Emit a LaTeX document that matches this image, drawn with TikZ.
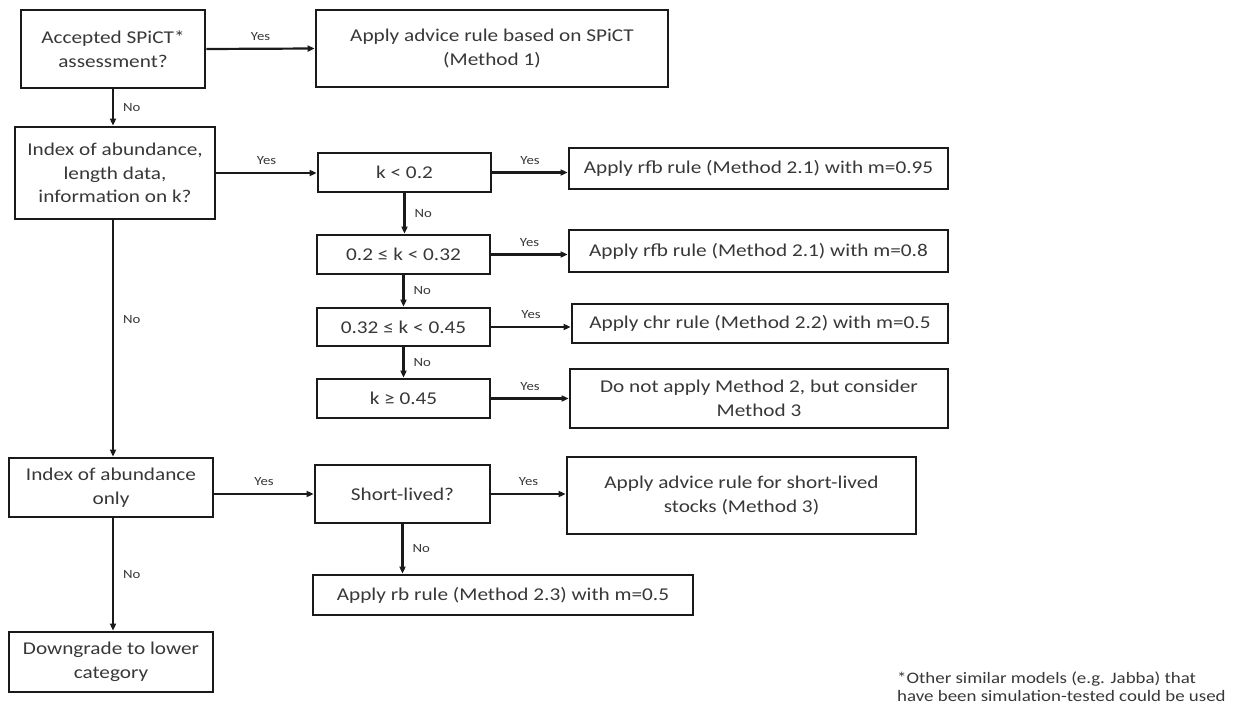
\documentclass[tikz,border=0pt]{standalone}
\usepackage{fontspec}
\setmainfont{Carlito}[FakeStretch=1.18]
\usetikzlibrary{arrows.meta}
\definecolor{txt}{HTML}{383838}
\definecolor{ln}{HTML}{1A1A1A}
\begin{document}
\begin{tikzpicture}[x=1pt,y=-1pt,
  box/.style={draw=ln,line width=2.8pt,inner sep=0pt,align=center,text=txt,
    font=\fontsize{18}{23.5}\selectfont},
  conn/.style={draw=ln,line width=2.2pt,-{Triangle[length=7pt,width=6pt]}},
  lbl/.style={text=txt,font=\fontsize{12.5}{14}\selectfont,inner sep=1pt}]
\useasboundingbox[fill=white] (0,0) rectangle (1242,704);
\node[box,minimum width=184pt,minimum height=78pt] (A) at (113,49) {Accepted SPiCT*\\assessment?};
\node[box,minimum width=352pt,minimum height=77pt] (B) at (492,48.5) {Apply advice rule based on SPiCT\\(Method 1)};
\node[box,minimum width=200pt,minimum height=92pt] (C) at (115,173) {Index of abundance,\\length data,\\information on k?};
\node[box,minimum width=173pt,minimum height=39pt] (D) at (404.5,172.5) {k < 0.2};
\node[box,minimum width=379pt,minimum height=41pt] (E) at (758.5,168.5) {Apply rfb rule (Method 2.1) with m=0.95};
\node[box,minimum width=173pt,minimum height=39pt] (F) at (403.5,254.5) {0.2 ≤ k < 0.32};
\node[box,minimum width=379pt,minimum height=42pt] (G) at (758.5,251) {Apply rfb rule (Method 2.1) with m=0.8};
\node[box,minimum width=173pt,minimum height=38pt] (H) at (403.5,327) {0.32 ≤ k < 0.45};
\node[box,minimum width=376pt,minimum height=39pt] (I) at (760,323.5) {Apply chr rule (Method 2.2) with m=0.5};
\node[box,minimum width=173pt,minimum height=39pt] (J) at (403.5,398.5) {k ≥ 0.45};
\node[box,minimum width=378pt,minimum height=59pt] (K) at (759,398.5) {Do not apply Method 2, but consider\\Method 3};
\node[box,minimum width=204pt,minimum height=59pt] (L) at (111,487.5) {Index of abundance\\only};
\node[box,minimum width=175pt,minimum height=58pt] (M) at (402.5,494) {Short-lived?};
\node[box,minimum width=349pt,minimum height=77pt] (N) at (741.5,495.5) {Apply advice rule for short-lived\\stocks (Method 3)};
\node[box,minimum width=380pt,minimum height=40pt] (O) at (503,595) {Apply rb rule (Method 2.3) with m=0.5};
\node[box,minimum width=204pt,minimum height=60pt] (P) at (111,662) {Downgrade to lower\\category};
\node[anchor=north west,align=left,text=txt,font=\fontsize{16}{18}\selectfont,inner sep=0pt] (note) at (897,672) {*Other similar models (e.g. Jabba) that\\have been simulation-tested could be used};
% horizontal yes arrows
\draw[conn] (A.east) -- node[lbl,above=6pt]{Yes} (B.west);
\draw[conn] (C.east) -- node[lbl,above=6pt]{Yes} (C.east -| D.west);
\draw[conn] (D.east) -- node[lbl,above=6pt]{Yes} (D.east -| E.west);
\draw[conn] (F.east) -- node[lbl,above=6pt]{Yes} (F.east -| G.west);
\draw[conn] (H.east) -- node[lbl,above=6pt]{Yes} (H.east -| I.west);
\draw[conn] (J.east) -- node[lbl,above=6pt]{Yes} (J.east -| K.west);
\draw[conn] (M.west -| L.east) -- node[lbl,above=6pt]{Yes} (M.west);
\draw[conn] (M.east) -- node[lbl,above=6pt]{Yes} (M.east -| N.west);
% vertical no arrows
\draw[conn] (A.south) -- node[lbl,right=8pt]{No} (A.south |- C.north);
\draw[conn] (D.south) -- node[lbl,right=8pt]{No} (D.south |- F.north);
\draw[conn] (F.south) -- node[lbl,right=8pt]{No} (F.south |- H.north);
\draw[conn] (H.south) -- node[lbl,right=8pt]{No} (H.south |- J.north);
\draw[conn] ([xshift=-2pt]C.south) -- node[lbl,right=8pt,pos=0.42]{No} ([xshift=-2pt]C.south |- L.north);
\draw[conn] (M.south) -- node[lbl,right=8pt]{No} (M.south |- O.north);
\draw[conn] ([xshift=2pt]L.south) -- node[lbl,right=8pt]{No} ([xshift=2pt]L.south |- P.north);
\end{tikzpicture}
\end{document}
